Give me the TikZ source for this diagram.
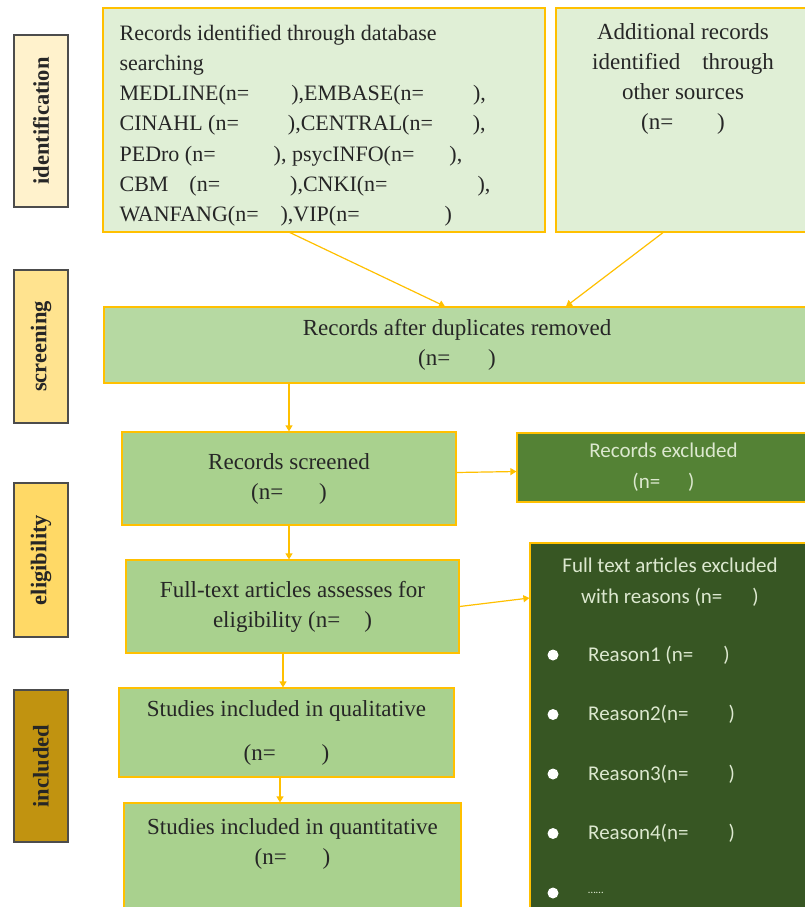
\documentclass[tikz,border=0pt]{standalone}
\usepackage{fontspec}
\setmainfont{Liberation Serif}
\newfontfamily\uisans{Carlito}
\usetikzlibrary{arrows.meta}
\definecolor{paleGreen}{HTML}{E0EFD6}
\definecolor{midGreen}{HTML}{A9D18E}
\definecolor{dupGreen}{HTML}{B6D9A2}
\definecolor{darkGreen}{HTML}{548235}
\definecolor{deepGreen}{HTML}{375623}
\definecolor{gold}{HTML}{FFC000}
\definecolor{stageA}{HTML}{FFF2CC}
\definecolor{stageB}{HTML}{FFE38F}
\definecolor{stageC}{HTML}{FFD966}
\definecolor{stageD}{HTML}{C19310}
\definecolor{inkGreen}{HTML}{DCE8CF}
\begin{document}
\begin{tikzpicture}[x=1pt, y=-1pt,
  every node/.style={font=\fontsize{23}{30}\selectfont, text=black!85, inner sep=0pt},
  stage/.style={draw=black!70, line width=1.5pt, rotate=90, minimum height=54pt, font=\fontsize{22.5}{27}\selectfont\bfseries},
  box/.style={draw=gold, line width=1.2pt, fill=midGreen, align=center},
  flow/.style={draw=gold, line width=1.2pt, -{Triangle[width=7pt,length=6pt]}},
  lighttext/.style={text=inkGreen, font=\uisans\fontsize{21}{31}\selectfont, align=center}]
  \fill[white] (0,0) rectangle (805,907);
  \useasboundingbox (0,0) rectangle (805,907);
  % stage labels
  \node[stage, fill=stageA, minimum width=172pt] (identification) at (41,121) {identification};
  \node[stage, fill=stageB, minimum width=153pt] (screening) at (41,346.5) {screening};
  \node[stage, fill=stageC, minimum width=154pt] (eligibility) at (41,560) {eligibility};
  \node[stage, fill=stageD, minimum width=152pt] (included) at (41,766) {included};
  % identification
  \node[box, fill=paleGreen, minimum width=442pt, minimum height=224pt] (database) at (324,120) {};
  \node[anchor=north west, align=left, font=\fontsize{22}{30.3}\selectfont] (databasetext) at ([xshift=17pt,yshift=-17pt]database.north west) {Records identified through database\\
    searching\\
    MEDLINE(n=\hspace{42pt}),EMBASE(n=\hspace{49pt}),\\
    CINAHL (n=\hspace{49pt}),CENTRAL(n=\hspace{40pt}),\\
    PEDro (n=\hspace{58pt}), psycINFO(n=\hspace{35pt}),\\
    CBM\hspace{21pt}(n=\hspace{70pt}),CNKI(n=\hspace{90pt}),\\
    WANFANG(n=\hspace{22pt}),VIP(n=\hspace{85pt})};
  \node[box, fill=paleGreen, minimum width=254pt, minimum height=224pt] (other) at (683,120) {};
  \node[anchor=north, align=center] (othertext) at ([yshift=-16pt]other.north) {Additional records\\
    identified\hspace{22pt}through\\ other sources\\ (n=\hspace{44pt})};
  % screening
  \node[box, fill=dupGreen, minimum width=706pt, minimum height=76pt] (dup) at (457,345) {Records after duplicates removed\\ (n=\hspace{38pt})};
  \node[box, minimum width=334pt, minimum height=93pt] (screened) at (289,478.5) {Records screened\\ (n=\hspace{36pt})};
  \node[box, fill=darkGreen, minimum width=293pt, minimum height=69pt, lighttext] (excluded) at (663.5,467.5) {Records excluded\\ (n=\hspace{28pt})};
  % eligibility
  \node[box, minimum width=333pt, minimum height=93pt] (fulltext) at (292.5,606.5) {Full-text articles assesses for\\ eligibility (n=\hspace{24pt})};
  \node[box, fill=deepGreen, minimum width=280pt, minimum height=372pt] (fullexcl) at (670,729) {};
  \node[anchor=north, lighttext] (reasons) at ([yshift=-15pt]fullexcl.north) {Full text articles excluded\\ with reasons (n=\hspace{30pt})};
  \foreach \txt [count=\i] in {{Reason1 (n=\hspace{30pt})}, {Reason2(n=\hspace{40pt})}, {Reason3(n=\hspace{40pt})}, {Reason4(n=\hspace{40pt})}, {\fontsize{11}{11}\selectfont\ldots\ldots}} {
    \pgfmathsetmacro\ry{655+59.5*(\i-1)}
    \node[circle, fill=white, minimum size=11pt] (dot\i) at (553,\ry) {};
    \node[anchor=west, lighttext] (reason\i) at (588,\ry) {\txt};
  }
  % included
  \node[box, minimum width=335pt, minimum height=89pt] (qual) at (286.5,732.5) {Studies included in qualitative\\[14pt] (n=\hspace{46pt})};
  \node[box, minimum width=337pt, minimum height=112pt] (quant) at (292.5,859) {};
  \node[anchor=north, align=center] (quanttext) at ([yshift=-16pt]quant.north) {Studies included in quantitative\\ (n=\hspace{36pt})};
  % connectors
  \draw[flow] ([xshift=-34pt]database.south) -- ([xshift=-12pt]dup.north);
  \draw[flow] ([xshift=-20pt]other.south) -- ([xshift=109pt]dup.north);
  \draw[flow] (dup.south -| screened.north) -- (screened.north);
  \draw[flow] ([yshift=6pt]screened.east) -- ([yshift=-4pt]excluded.west);
  \draw[flow] (screened.south) -- (screened.south |- fulltext.north);
  \draw[flow] (fulltext.east) -- ([yshift=131pt]fullexcl.west);
  \draw[flow] ([xshift=-9.5pt]fulltext.south) -- ([xshift=-3.5pt]qual.north);
  \draw[flow] ([xshift=-6.5pt]qual.south) -- ([xshift=-12.5pt]quant.north);
\end{tikzpicture}
\end{document}
